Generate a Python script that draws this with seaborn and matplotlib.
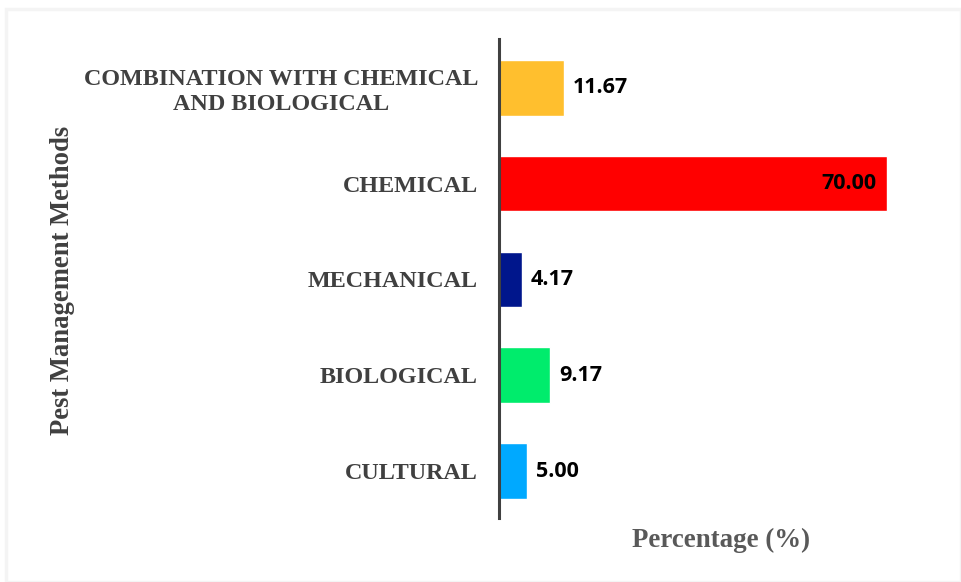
import matplotlib
matplotlib.use("Agg")
import matplotlib.pyplot as plt
import seaborn as sns
import pandas as pd

categories = ["COMBINATION WITH CHEMICAL\nAND BIOLOGICAL", "CHEMICAL", "MECHANICAL", "BIOLOGICAL", "CULTURAL"]
values = [11.67, 70.00, 4.17, 9.17, 5.00]
colors = ["#FFBF2E", "#FF0000", "#00168C", "#00EC6C", "#00A9FF"]
xlabel = "Percentage (%)"
ylabel = "Pest Management Methods"

sns.set_theme(style="white")
df = pd.DataFrame({"cat": categories, "val": values})

fig = plt.figure(figsize=(9.61, 5.82), dpi=100)
ax = fig.add_axes([0.5192, 0.11, 0.433, 0.823])
sns.barplot(data=df, x="val", y="cat", hue="cat", palette=colors, orient="h",
            width=0.58, legend=False, ax=ax, saturation=1)

ax.set_xlim(0, 75)
ax.set_ylim(4.49, -0.51)
for s in ["top", "right", "bottom"]:
    ax.spines[s].set_visible(False)
ax.spines["left"].set_color("#404040")
ax.spines["left"].set_linewidth(2.2)
ax.set_xticks([])
ax.tick_params(axis="y", length=0, pad=15)
for lbl in ax.get_yticklabels():
    lbl.set_fontfamily("Liberation Serif")
    lbl.set_fontweight("bold")
    lbl.set_fontsize(17.4)
    lbl.set_color("#404040")
    lbl.set_linespacing(1.22)
    lbl.set_multialignment("center")

vmax = max(values)
for i, v in enumerate(values):
    if v == vmax:
        ax.annotate(f"{v:.2f}", xy=(v, i), xytext=(-8, 0), textcoords="offset points",
                    ha="right", va="center", fontsize=15.5, fontweight="bold",
                    family="Open Sans", color="black")
    else:
        ax.annotate(f"{v:.2f}", xy=(v, i), xytext=(6.5, 0), textcoords="offset points",
                    ha="left", va="center", fontsize=15.5, fontweight="bold",
                    family="Open Sans", color="black")

ax.set_ylabel("")
ax.set_xlabel("")
fig.text(0.750, 0.072, xlabel, ha="center", va="center", fontsize=19.4,
         fontweight="bold", family="Liberation Serif", color="#595959")
fig.text(0.065, 0.519, ylabel, ha="center", va="center", rotation=90, fontsize=19.2,
         fontweight="bold", family="Liberation Serif", color="#404040")

# faint frame
fig.patches.append(plt.Rectangle((0.006, 0.0), 0.994, 0.985, transform=fig.transFigure,
                                 fill=False, edgecolor="#f4f4f4", linewidth=2.5))

fig.savefig("out.png", dpi=100, facecolor="white")
